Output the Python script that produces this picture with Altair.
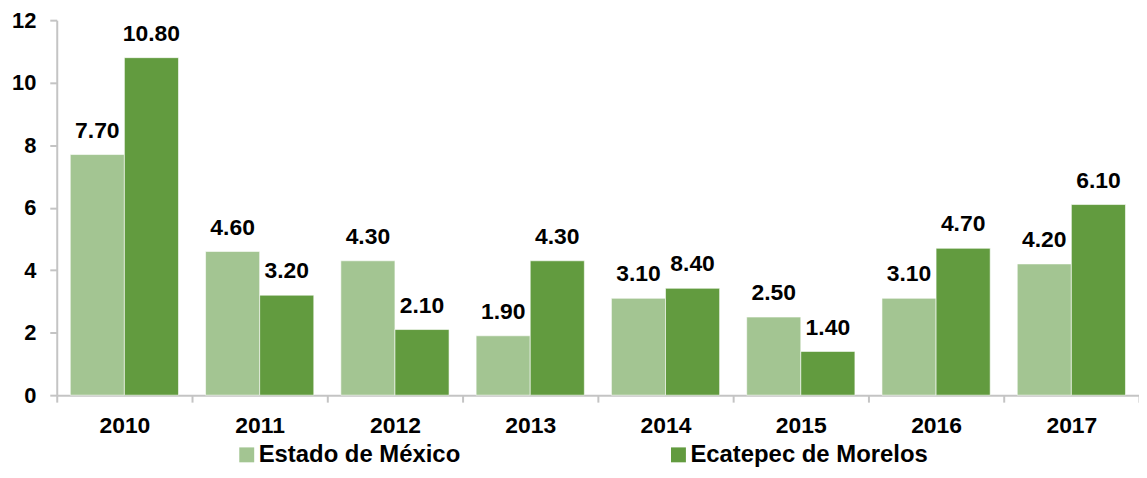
import altair as alt
import pandas as pd

years = ["2010", "2011", "2012", "2013", "2014", "2015", "2016", "2017"]
series = ["Estado de México", "Ecatepec de Morelos"]
estado_vals = [7.7, 4.6, 4.3, 1.9, 3.1, 2.5, 3.1, 4.2]
ecatepec_vals = [10.8, 3.2, 2.1, 4.3, 3.42, 1.4, 4.7, 6.1]
estado_labels = ["7.70", "4.60", "4.30", "1.90", "3.10", "2.50", "3.10", "4.20"]
ecatepec_labels = ["10.80", "3.20", "2.10", "4.30", "8.40", "1.40", "4.70", "6.10"]
colors = ["#a3c592", "#629b3f"]
y_ticks = [0, 2, 4, 6, 8, 10, 12]

rows = []
for i, y in enumerate(years):
    rows.append({"year": y, "serie": series[0], "value": estado_vals[i], "label": estado_labels[i]})
    rows.append({"year": y, "serie": series[1], "value": ecatepec_vals[i], "label": ecatepec_labels[i]})
df = pd.DataFrame(rows)

FONT = "Liberation Sans"

x = alt.X("year:N", sort=years, title=None,
          scale=alt.Scale(paddingInner=0, paddingOuter=0),
          axis=alt.Axis(labelAngle=0, labelFont=FONT, labelFontSize=23, labelFontWeight="bold",
                        labelColor="black", domainColor="#c4c4c4", domainWidth=2,
                        tickColor="#c4c4c4", tickWidth=2, tickSize=7, tickBand="extent",
                        labelPadding=13))
xo = alt.XOffset("serie:N", sort=series, scale=alt.Scale(paddingInner=0, paddingOuter=0.25))
y = alt.Y("value:Q", title=None,
          scale=alt.Scale(domain=[0, 12], nice=False),
          axis=alt.Axis(values=y_ticks, grid=False, labelFont=FONT, labelFontSize=22,
                        labelFontWeight="bold", labelColor="black", domainColor="#c4c4c4",
                        domainWidth=2, tickColor="#c4c4c4", tickWidth=2, tickSize=7,
                        labelPadding=14))
color = alt.Color("serie:N", sort=series,
                  scale=alt.Scale(domain=series, range=colors),
                  legend=alt.Legend(title=None, orient="none", direction="horizontal",
                                    legendX=179, legendY=425, symbolType="square",
                                    symbolSize=225, symbolStrokeWidth=0, labelFont=FONT,
                                    labelFontSize=24, labelFontWeight="bold", labelColor="black",
                                    labelLimit=400, labelOffset=0, columnPadding=207, padding=0))

bars = alt.Chart(df).mark_bar(stroke="white", strokeWidth=1, strokeOpacity=0.6).encode(
    x=x, xOffset=xo, y=y, color=color)

text = alt.Chart(df).mark_text(baseline="alphabetic", dy=-17, font=FONT, fontSize=23,
                               fontWeight="bold", color="black").encode(
    x=alt.X("year:N", sort=years), xOffset=alt.XOffset("serie:N", sort=series),
    y="value:Q", text="label:N")

chart = alt.layer(bars, text).properties(
    width=1088, height=377,
    padding={"left": 49, "top": 11, "right": 0, "bottom": 74},
    autosize="none",
).configure_view(stroke=None)

chart.save("out.html", embed_options={"renderer": "svg", "actions": False})
